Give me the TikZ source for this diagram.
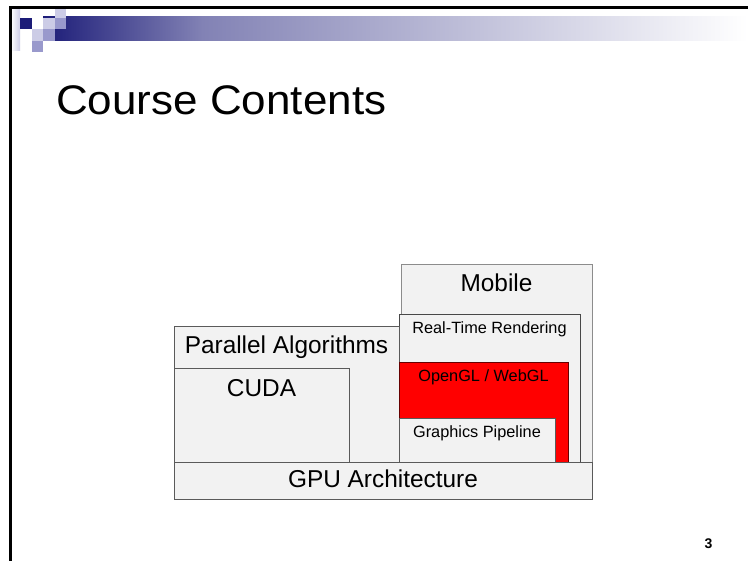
\documentclass[tikz,border=0pt]{standalone}
\usepackage{fontspec}
\setmainfont{Liberation Sans}
\definecolor{navy}{RGB}{28,28,120}
\definecolor{lav}{RGB}{204,204,230}
\definecolor{medlav}{RGB}{153,153,204}
\definecolor{boxfill}{RGB}{242,242,242}
\definecolor{boxline}{RGB}{90,90,90}
\definecolor{lightline}{RGB}{140,140,140}
\definecolor{glred}{RGB}{255,0,0}
\tikzset{
  layer/.style={draw=boxline, fill=boxfill, line width=0.9pt, inner sep=0pt, outer sep=0pt, anchor=north west},
  sq/.style={inner sep=0pt, outer sep=0pt, minimum width=11.5pt, minimum height=11.5pt, anchor=north west},
  big/.style={anchor=base, inner sep=0pt, font=\fontsize{24.4}{28}\selectfont},
  small/.style={anchor=base, inner sep=0pt, font=\fontsize{16.3}{19}\selectfont},
}
\begin{document}
\begin{tikzpicture}[x=1pt, y=-1pt]
\useasboundingbox (0,0) rectangle (748,561);
\fill[white] (0,0) rectangle (748,561);
% header decoration
\node[inner sep=0pt, outer sep=0pt, minimum width=9pt, minimum height=41pt, anchor=north west, left color=white, right color=lav] (fade) at (11,10) {};
\node[inner sep=0pt, outer sep=0pt, minimum width=160pt, minimum height=23.5pt, anchor=north west, left color=navy, right color=navy!55!white] (barA) at (43,17) {};
\node[inner sep=0pt, outer sep=0pt, minimum width=545pt, minimum height=23.5pt, anchor=north west, left color=navy!55!white, right color=white] (barB) at (202.5,17) {};
\node[sq, fill=navy] (s1) at (20,18) {};
\node[sq, fill=lav] (s2) at (43,18) {};
\node[sq, fill=lav] (s3) at (54.5,6.5) {};
\node[sq, fill=medlav] (s4) at (54.5,18) {};
\node[sq, fill=lav] (s5) at (31.5,29.5) {};
\node[sq, fill=medlav] (s6) at (43,29.5) {};
\node[sq, fill=medlav] (s7) at (31.5,41) {};
% frame
\draw[line width=2.2pt, black] (748,7.5) coordinate (fr1) -- (10.5,7.5) coordinate (fr2) -- (10.5,561) coordinate (fr3);
% title
\node[anchor=base west, inner sep=0pt, font=\fontsize{44}{50}\selectfont, yscale=0.94] (title) at (56,115) {Course Contents};
% layers
\node[layer, draw=lightline, minimum width=191pt, minimum height=198pt] (mobile) at (401,264) {};
\node[layer, draw=boxline!80!black, minimum width=181pt, minimum height=148pt] (rtr) at (399,314) {};
\node[layer, minimum width=225pt, minimum height=136pt] (par) at (174,326) {};
\node[layer, minimum width=175pt, minimum height=94pt] (cuda) at (174,368) {};
\node[layer, draw=black!60!glred, fill=glred, minimum width=169pt, minimum height=100pt] (gl) at (399,362) {};
\node[layer, minimum width=156pt, minimum height=44pt] (gp) at (399,418) {};
\node[layer, minimum width=418pt, minimum height=37pt] (gpu) at (174,462) {};
% labels
\node[big] (tmobile) at (496.5,292) {Mobile};
\node[small] (trtr) at (489.5,334) {Real-Time Rendering};
\node[big] (tpar) at (286.5,354) {Parallel Algorithms};
\node[big] (tcuda) at (261.5,397) {CUDA};
\node[small] (tgl) at (483.5,382) {OpenGL / WebGL};
\node[small] (tgp) at (477,438) {Graphics Pipeline};
\node[big] (tgpu) at (383,488) {GPU Architecture};
% page number
\node[anchor=base, inner sep=0pt, font=\bfseries\fontsize{14}{16}\selectfont] (pnum) at (708.5,549) {3};
\end{tikzpicture}
\end{document}
